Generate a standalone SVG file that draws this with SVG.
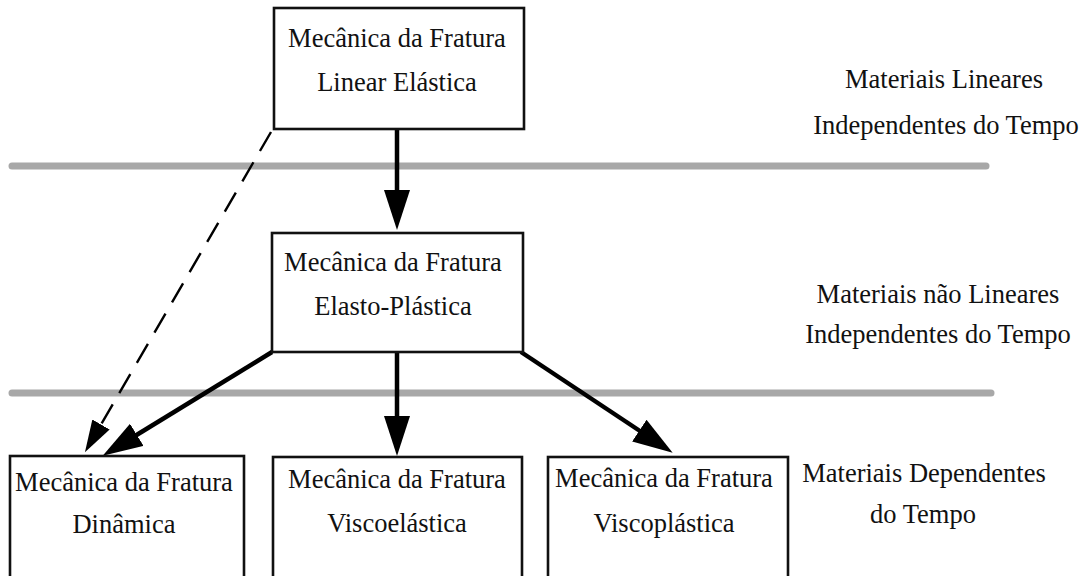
<svg xmlns="http://www.w3.org/2000/svg" width="1086" height="576" viewBox="0 0 1086 576">
  <style>
    .box { fill: #ffffff; stroke: #111111; stroke-width: 2.6; }
    .t { font-family: "Liberation Serif", "Times New Roman", serif; font-size: 26.5px; fill: #111111; text-anchor: middle; }
    .sep { stroke: #a8a8a8; stroke-width: 7; stroke-linecap: round; }
    .arr { stroke: #000000; stroke-width: 4.5; fill: none; marker-end: url(#head); }
    .dash { stroke: #000000; stroke-width: 2.4; fill: none; stroke-dasharray: 22 13; marker-end: url(#headS); }
  </style>
  <defs>
    <marker id="head" markerUnits="userSpaceOnUse" markerWidth="42" markerHeight="28" refX="8" refY="13" orient="auto">
      <path d="M0,0 L40,13 L0,26 Z" fill="#000000"/>
    </marker>
    <marker id="headS" markerUnits="userSpaceOnUse" markerWidth="36" markerHeight="22" refX="4" refY="10" orient="auto">
      <path d="M0,0 L32,10 L0,20 Z" fill="#000000"/>
    </marker>
  </defs>
  <rect width="1086" height="576" fill="#ffffff"/>

  <g id="separators">
    <line class="sep" x1="12" y1="166" x2="986" y2="166"/>
    <line class="sep" x1="12" y1="393" x2="991" y2="393"/>
  </g>

  <g id="connectors">
    <line class="dash" x1="271" y1="132" x2="99" y2="428"/>
    <line class="arr" x1="397" y1="129" x2="397" y2="198"/>
    <line class="arr" x1="272" y1="352" x2="130" y2="439"/>
    <line class="arr" x1="397" y1="352" x2="397" y2="424"/>
    <line class="arr" x1="521" y1="352" x2="646" y2="435"/>
  </g>

  <g id="node-mfle">
    <rect class="box" x="274" y="8" width="250" height="121"/>
    <text class="t" x="397" y="47">Mecânica da Fratura</text>
    <text class="t" x="397" y="91">Linear Elástica</text>
  </g>

  <g id="node-mfep">
    <rect class="box" x="272" y="233" width="251" height="119"/>
    <text class="t" x="393" y="271">Mecânica da Fratura</text>
    <text class="t" x="393" y="315">Elasto-Plástica</text>
  </g>

  <g id="node-dinamica">
    <rect class="box" x="10" y="456" width="234" height="130"/>
    <text class="t" x="124" y="491">Mecânica da Fratura</text>
    <text class="t" x="124" y="533">Dinâmica</text>
  </g>

  <g id="node-viscoelastica">
    <rect class="box" x="273" y="457" width="249" height="130"/>
    <text class="t" x="397" y="488">Mecânica da Fratura</text>
    <text class="t" x="397" y="532">Viscoelástica</text>
  </g>

  <g id="node-viscoplastica">
    <rect class="box" x="548" y="457" width="240" height="130"/>
    <text class="t" x="664" y="487">Mecânica da Fratura</text>
    <text class="t" x="664" y="532">Viscoplástica</text>
  </g>

  <g id="label-linear">
    <text class="t" x="944" y="88">Materiais Lineares</text>
    <text class="t" x="946" y="134">Independentes do Tempo</text>
  </g>

  <g id="label-nonlinear">
    <text class="t" x="938" y="303">Materiais não Lineares</text>
    <text class="t" x="938" y="343">Independentes do Tempo</text>
  </g>

  <g id="label-dependent">
    <text class="t" x="924" y="482">Materiais Dependentes</text>
    <text class="t" x="923" y="523">do Tempo</text>
  </g>
</svg>
